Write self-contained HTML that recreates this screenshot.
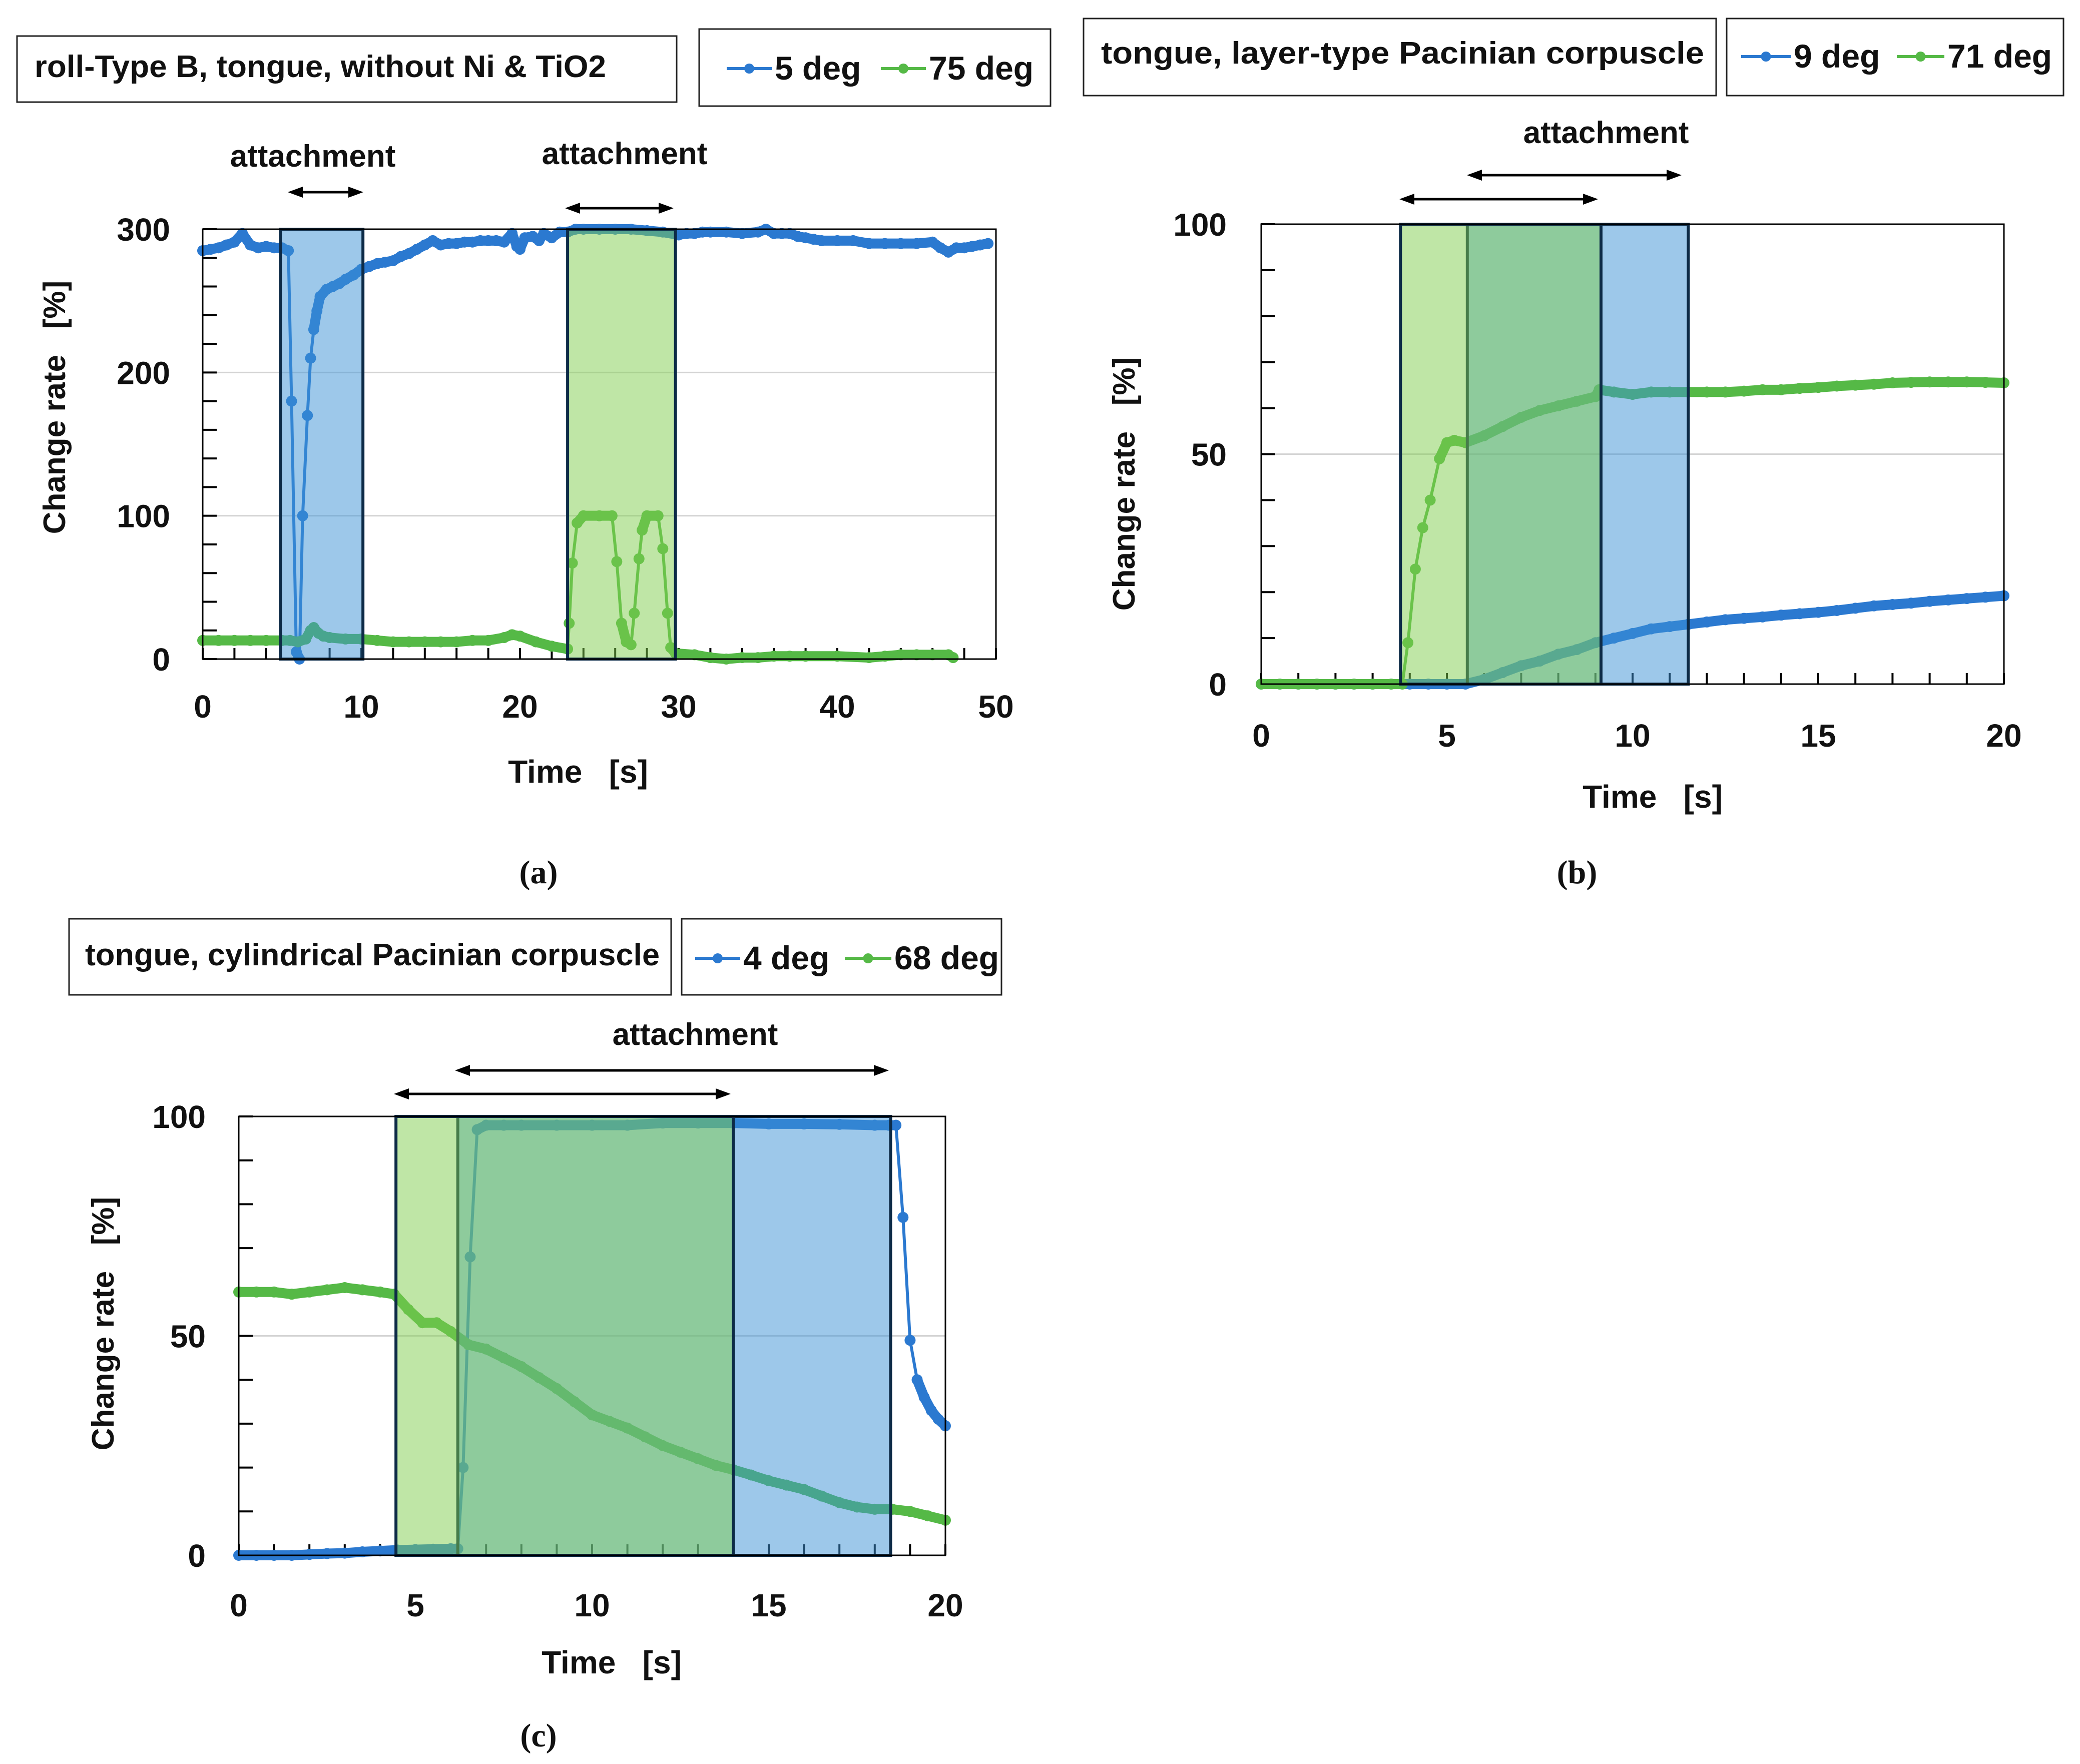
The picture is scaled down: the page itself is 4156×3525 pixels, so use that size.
<!DOCTYPE html>
<html><head><meta charset="utf-8"><style>
html,body{margin:0;padding:0;background:#fff}
svg{display:block}
text{font-family:"Liberation Sans",sans-serif;font-weight:bold;fill:#111}
.cap{font-family:"Liberation Serif",serif;font-weight:bold}
</style></head><body>
<svg id="fig" xmlns="http://www.w3.org/2000/svg" width="4156" height="3525" viewBox="0 0 4156 3525"></svg>
<script>
// ---------- data ----------
const aBlue=[[0,285],[0.5,286],[1,287],[1.5,289],[2,291],[2.5,297],[3,289],[3.5,287],[4,288],[4.5,287],[5,287],[5.4,285],[5.6,180],[5.9,5],[6.1,0],[6.3,100],[6.6,170],[6.8,210],[7,230],[7.2,243],[7.4,253],[7.8,258],[8.2,260],[8.6,262],[9,265],[9.5,268],[10,272],[10.5,274],[11,276],[11.5,277],[12,278],[12.5,281],[13,283],[13.5,286],[14,289],[14.5,292],[15,289],[15.5,290],[16,290],[16.5,291],[17,291],[17.5,292],[18,292],[18.5,292],[19,291],[19.5,297],[19.8,288],[20,286],[20.3,294],[20.8,295],[21.2,292],[21.5,297],[22,294],[22.5,298],[23,298],[23.5,300],[24,300],[25,300],[26,300],[27,300],[28,299],[29,298],[30,296],[30.5,297],[31,297],[31.5,298],[32,298],[33,298],[34,297],[35,298],[35.5,300],[36,297],[36.5,297],[37,297],[37.5,295],[38,294],[38.5,293],[39,292],[40,292],[41,292],[42,290],[43,290],[44,290],[45,290],[46,291],[46.5,287],[47,284],[47.5,287],[48,287],[48.5,288],[49,289],[49.5,290]];
const aGreen=[[0,13],[1,13],[2,13],[3,13],[4,13],[5,13],[5.5,13],[6,12],[6.5,14],[6.8,20],[7,22],[7.3,18],[7.6,16],[8,15],[9,14],[10,14],[11,13],[12,12],[13,12],[14,12],[15,12],[16,12],[17,13],[18,13],[19,15],[19.5,17],[20,16],[21,12],[22,9],[23,7],[23.1,25],[23.3,67],[23.6,95],[24,100],[25,100],[25.8,100],[26.1,68],[26.4,25],[26.7,12],[27,10],[27.2,32],[27.5,70],[27.7,90],[28,100],[28.7,100],[29,77],[29.3,32],[29.5,8],[29.8,4],[31,3],[32,1],[33,0],[34,1],[35,1],[36,2],[37,2],[38,2],[40,2],[42,1],[43,2],[44,3],[45,3],[46,3],[47,3],[47.3,1]];
const bBlue=[[0,0],[0.5,0],[1,0],[1.5,0],[2,0],[2.5,0],[3,0],[3.5,0],[4,0],[4.5,0],[5,0],[5.5,0],[6,1],[6.5,2.5],[7,4],[7.5,5],[8,6.5],[8.5,7.5],[9,9],[9.5,10],[10,11],[10.5,12],[11,12.5],[11.5,13],[12,13.5],[12.5,14],[13,14.3],[13.5,14.6],[14,15],[14.5,15.3],[15,15.6],[15.5,16],[16,16.5],[16.5,17],[17,17.3],[17.5,17.6],[18,18],[18.5,18.3],[19,18.6],[19.5,18.9],[20,19.2]];
const bGreen=[[0,0],[0.5,0],[1,0],[1.5,0],[2,0],[2.5,0],[3,0],[3.5,0],[3.8,0],[3.95,9],[4.15,25],[4.35,34],[4.55,40],[4.8,49],[5,52.5],[5.2,53],[5.5,52.5],[6,54],[6.5,56],[7,58],[7.5,59.5],[8,60.5],[8.5,61.5],[9,62.5],[9.1,64],[9.5,63.5],[10,63],[10.5,63.5],[11,63.5],[11.5,63.5],[12,63.5],[12.5,63.5],[13,63.7],[13.5,64],[14,64],[14.5,64.3],[15,64.5],[15.5,64.8],[16,65],[16.5,65.2],[17,65.5],[17.5,65.6],[18,65.7],[18.5,65.7],[19,65.7],[19.5,65.6],[20,65.5]];
const cBlue=[[0,0],[0.5,0],[1,0],[1.5,0],[2,0.2],[2.5,0.4],[3,0.5],[3.5,0.8],[4,1],[4.5,1.2],[5,1.3],[5.5,1.4],[6,1.5],[6.2,1.5],[6.35,20],[6.55,68],[6.75,97],[7,98],[7.5,98],[8,98],[9,98],[10,98],[11,98],[12,98.5],[13,98.5],[14,98.5],[15,98.3],[16,98.3],[17,98.2],[18,98],[18.4,98],[18.6,98],[18.8,77],[19,49],[19.2,40],[19.4,36],[19.6,33],[19.8,31],[20,29.5]];
const cGreen=[[0,60],[0.5,60],[1,60],[1.5,59.5],[2,60],[2.5,60.5],[3,61],[3.5,60.5],[4,60],[4.4,59.5],[4.8,56],[5.2,53],[5.6,53],[6,51],[6.5,48],[7,47],[7.5,45],[8,43],[8.5,40.5],[9,38],[9.5,35],[10,32],[10.5,30.5],[11,29],[11.5,27],[12,25],[12.5,23.5],[13,22],[13.5,20.5],[14,19.5],[14.5,18.3],[15,17],[15.5,16],[16,15],[16.5,13.5],[17,12],[17.5,11],[18,10.5],[18.5,10.5],[19,10],[19.5,9],[20,8]];
const aXTicks=[0,10,20,30,40,50];
const aYTicks=[0,100,200,300];
const bXTicks=[0,5,10,15,20];
const bYTicks=[0,50,100];
const cXTicks=[0,5,10,15,20];
const cYTicks=[0,50,100];

const BLUE='#2b79d0',GREEN='#55b946';
const NS='http://www.w3.org/2000/svg';
const svg=document.getElementById('fig');
function el(tag,attrs,parent){const e=document.createElementNS(NS,tag);for(const k in attrs)e.setAttribute(k,attrs[k]);(parent||svg).appendChild(e);return e;}
function txt(s,attrs,parent){const e=el('text',attrs,parent);e.textContent=s;return e;}

function panel(cfg){
  const g=el('g',{});
  
  
  const X=v=>cfg.x0+(v-cfg.xmin)/(cfg.xmax-cfg.xmin)*(cfg.x1-cfg.x0);
  const Y=v=>cfg.y0+(v-cfg.ymin)/(cfg.ymax-cfg.ymin)*(cfg.y1-cfg.y0);
  cfg.yTicks.forEach(v=>{if(v>cfg.ymin&&v<cfg.ymax){const l=el('line',{x1:cfg.x0,x2:cfg.x1,y1:Y(v),y2:Y(v),stroke:'#d4d4d4','stroke-width':3},g);}});
  for(let v=cfg.ymin;v<=cfg.ymax+1e-9;v+=cfg.yMinor){const t=el('line',{x1:cfg.x0,x2:cfg.x0+28,y1:Y(v),y2:Y(v),stroke:'#000','stroke-width':4},g);}
  for(let v=cfg.xmin;v<=cfg.xmax+1e-9;v+=cfg.xMinor){const t=el('line',{x1:X(v),x2:X(v),y1:cfg.y0,y2:cfg.y0-22,stroke:'#000','stroke-width':4},g);}
  cfg.series.forEach(s=>{
    const sg=el('g',{},g);
    
    
    for(let i=1;i<s.data.length;i++){
      const ax=X(s.data[i-1][0]),ay=Y(s.data[i-1][1]),bx=X(s.data[i][0]),by=Y(s.data[i][1]);
      const thick=Math.abs(by-ay)<40;
      el('line',{x1:ax,y1:ay,x2:bx,y2:by,stroke:s.color,'stroke-width':thick?20:6,'stroke-linecap':'round'},sg);
    }
    s.data.forEach(p=>{const c=el('circle',{cx:X(p[0]),cy:Y(p[1]),r:11,fill:s.color},sg);});
  });
  cfg.rects.forEach(r=>{const e=el('rect',{x:X(r.t0),y:cfg.y1,width:X(r.t1)-X(r.t0),height:cfg.y0-cfg.y1,fill:r.fill,'fill-opacity':0.5,stroke:'#0d2b47','stroke-width':6},g);});
  const f=el('rect',{x:cfg.x0,y:cfg.y1,width:cfg.x1-cfg.x0,height:cfg.y0-cfg.y1,fill:'none',stroke:'#000','stroke-width':3},g);
  
  cfg.xTicks.forEach(v=>{const t=txt(String(v),{x:X(v),y:cfg.xlabY,'text-anchor':'middle','font-size':64},g);});
  cfg.yTicks.forEach(v=>{const t=txt(String(v),{x:cfg.ylabX,y:Y(v)+23,'text-anchor':'end','font-size':64},g);});
  const yt=txt('Change rate   [%]',{x:0,y:0,'text-anchor':'middle','font-size':62,transform:`translate(${cfg.ytX},${cfg.ytY}) rotate(-90)`},g);
  yt.setAttribute('style','white-space:pre');
  
  const xt=txt('Time   [s]',{x:cfg.xtX,y:cfg.xtY,'text-anchor':'middle','font-size':64},g);
  xt.setAttribute('style','white-space:pre');
  
  const tb=el('rect',{x:cfg.tb[0],y:cfg.tb[1],width:cfg.tb[2]-cfg.tb[0],height:cfg.tb[3]-cfg.tb[1],fill:'#fff',stroke:'#222','stroke-width':3},g);
  
  const tt=txt(cfg.title,{x:cfg.titleX,y:cfg.titleY,'font-size':62,textLength:cfg.titleLen,lengthAdjust:'spacingAndGlyphs'},g);
  
  const lb=el('rect',{x:cfg.lb[0],y:cfg.lb[1],width:cfg.lb[2]-cfg.lb[0],height:cfg.lb[3]-cfg.lb[1],fill:'#fff',stroke:'#222','stroke-width':3},g);
  
  cfg.legend.forEach(L=>{
    const lg=el('g',{},g);
    
    
    el('line',{x1:L.x0,x2:L.x1,y1:cfg.legY-22,y2:cfg.legY-22,stroke:L.color,'stroke-width':6},lg);
    el('circle',{cx:(L.x0+L.x1)/2,cy:cfg.legY-22,r:10,fill:L.color},lg);
    txt(L.label,{x:L.x1+6,y:cfg.legY,'font-size':66},lg);
  });
  cfg.attach.forEach(a=>{const t=txt('attachment',{x:a[0],y:a[1],'text-anchor':'middle','font-size':62},g);});
  cfg.arrows.forEach(a=>{
    const ag=el('g',{},g);
    
    
    el('line',{x1:a[0]+20,x2:a[1]-20,y1:a[2],y2:a[2],stroke:'#000','stroke-width':5},ag);
    el('polygon',{points:`${a[0]},${a[2]} ${a[0]+30},${a[2]-11} ${a[0]+30},${a[2]+11}`,fill:'#000'},ag);
    el('polygon',{points:`${a[1]},${a[2]} ${a[1]-30},${a[2]-11} ${a[1]-30},${a[2]+11}`,fill:'#000'},ag);
  });
  const cp=txt(cfg.cap,{x:cfg.capX,y:cfg.capY,'text-anchor':'middle','font-size':66,class:'cap'},g);
  
}

panel({id:'a',x0:405,x1:1990,y0:1317,y1:458,xmin:0,xmax:50,ymin:0,ymax:300,xMinor:2,yMinor:20,
 xTicks:aXTicks,yTicks:aYTicks,xlabY:1434,ylabX:340,ytX:130,ytY:814,xtX:1155,xtY:1564,
 series:[{name:'series-5-deg',color:BLUE,data:aBlue},{name:'series-75-deg',color:GREEN,data:aGreen}],
 rects:[{name:'attachment-region-5-deg',t0:4.9,t1:10.1,fill:'#3b91d5'},{name:'attachment-region-75-deg',t0:23,t1:29.8,fill:'#7fcd4d'}],
 tb:[34,72,1352,204],title:'roll-Type B, tongue, without Ni & TiO2',titleX:69,titleY:154,titleLen:1142,
 lb:[1397,58,2099,212],legY:159,legend:[{x0:1452,x1:1542,color:BLUE,label:'5 deg'},{x0:1760,x1:1850,color:GREEN,label:'75 deg'}],
 attach:[[625,333],[1248,328]],arrows:[[575,726,384],[1129,1346,416]],cap:'(a)',capX:1076,capY:1765});

panel({id:'b',x0:2520,x1:4004,y0:1367,y1:448,xmin:0,xmax:20,ymin:0,ymax:100,xMinor:1,yMinor:10,
 xTicks:bXTicks,yTicks:bYTicks,xlabY:1492,ylabX:2451,ytX:2267,ytY:967,xtX:3302,xtY:1614,
 series:[{name:'series-9-deg',color:BLUE,data:bBlue},{name:'series-71-deg',color:GREEN,data:bGreen}],
 rects:[{name:'attachment-region-9-deg',t0:5.55,t1:11.5,fill:'#3b91d5'},{name:'attachment-region-71-deg',t0:3.75,t1:9.15,fill:'#7fcd4d'}],
 tb:[2165,37,3429,191],title:'tongue, layer-type Pacinian corpuscle',titleX:2200,titleY:127,titleLen:1205,
 lb:[3450,37,4123,191],legY:135,legend:[{x0:3479,x1:3578,color:BLUE,label:'9 deg'},{x0:3790,x1:3885,color:GREEN,label:'71 deg'}],
 attach:[[3209,286]],arrows:[[2796,3193,398],[2931,3360,350]],cap:'(b)',capX:3151,capY:1765});

panel({id:'c',x0:477,x1:1889,y0:3108,y1:2231,xmin:0,xmax:20,ymin:0,ymax:100,xMinor:1,yMinor:10,
 xTicks:cXTicks,yTicks:cYTicks,xlabY:3230,ylabX:411,ytX:227,ytY:2645,xtX:1222,xtY:3344,
 series:[{name:'series-4-deg',color:BLUE,data:cBlue},{name:'series-68-deg',color:GREEN,data:cGreen}],
 rects:[{name:'attachment-region-4-deg',t0:6.2,t1:18.45,fill:'#3b91d5'},{name:'attachment-region-68-deg',t0:4.45,t1:14.0,fill:'#7fcd4d'}],
 tb:[138,1836,1341,1988],title:'tongue, cylindrical Pacinian corpuscle',titleX:170,titleY:1929,titleLen:1148,
 lb:[1362,1836,2001,1988],legY:1937,legend:[{x0:1389,x1:1479,color:BLUE,label:'4 deg'},{x0:1688,x1:1781,color:GREEN,label:'68 deg'}],
 attach:[[1389,2088]],arrows:[[787,1460,2186],[909,1776,2139]],cap:'(c)',capX:1076,capY:3490});
</script>
</body></html>
